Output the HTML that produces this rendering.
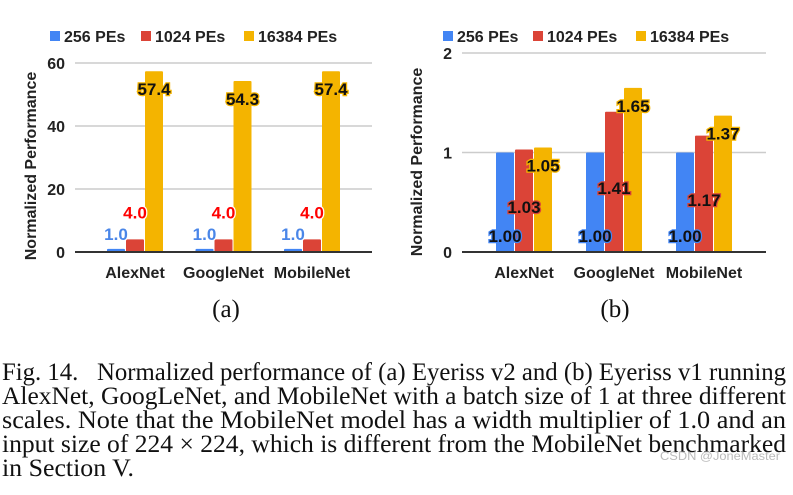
<!DOCTYPE html>
<html><head><meta charset="utf-8"><style>
html,body{margin:0;padding:0;background:#fff;width:793px;height:495px;overflow:hidden}
svg{display:block}
.t{font-family:"Liberation Sans",Arial,sans-serif;font-weight:bold}
.cap{font-family:"Liberation Serif","Times New Roman",serif;font-size:25px;fill:#111}
</style></head><body>
<svg id="svg" width="793" height="495" viewBox="0 0 793 495">
<g id="chartA"></g>
<g id="chartB"></g>
<text x="226" y="317" text-anchor="middle" class="cap" font-size="23">(a)</text>
<text x="615" y="317" text-anchor="middle" class="cap" font-size="23">(b)</text>
<g>
<text class="cap" x="2" y="380" textLength="784" lengthAdjust="spacingAndGlyphs">Fig. 14.&#160;&#160;&#160;Normalized performance of (a) Eyeriss v2 and (b) Eyeriss v1 running</text>
<text class="cap" x="2" y="404" textLength="784" lengthAdjust="spacingAndGlyphs">AlexNet, GoogLeNet, and MobileNet with a batch size of 1 at three different</text>
<text class="cap" x="2" y="428" textLength="784" lengthAdjust="spacingAndGlyphs">scales. Note that the MobileNet model has a width multiplier of 1.0 and an</text>
<text class="cap" x="2" y="452" textLength="784" lengthAdjust="spacingAndGlyphs">input size of 224 × 224, which is different from the MobileNet benchmarked</text>
<text class="cap" x="2" y="476" textLength="132" lengthAdjust="spacingAndGlyphs">in Section V.</text>
</g>
<text x="660" y="460" font-family="Liberation Sans,sans-serif" font-size="12" fill="#bbb" textLength="120" lengthAdjust="spacingAndGlyphs">CSDN @JoneMaster</text>
</svg>
<script>
const categories = ["AlexNet","GoogleNet","MobileNet"];
const seriesNames = ["256 PEs","1024 PEs","16384 PEs"];
const colors = ["#4285f4","#db4437","#f4b400"];
const aPE256 = [1.0,1.0,1.0];
const aPE1024 = [4.0,4.0,4.0];
const aPE16384 = [57.4,54.3,57.4];
const aTicks = [0,20,40,60];
const bPE256 = [1.00,1.00,1.00];
const bPE1024 = [1.03,1.41,1.17];
const bPE16384 = [1.05,1.65,1.37];
const bTicks = [0,1,2];

const NS="http://www.w3.org/2000/svg";
function mk(parent,tag,attrs,text){const e=document.createElementNS(NS,tag);for(const k in attrs)e.setAttribute(k,attrs[k]);if(text!==undefined)e.textContent=text;parent.appendChild(e);return e;}

function drawChart(g,cfg){
  const y=v=>cfg.y0-(v-cfg.min)/(cfg.max-cfg.min)*(cfg.y0-cfg.yTop);
  seriesNames.forEach((n,i)=>{
    const r=mk(g,'rect',{x:cfg.legX[i],y:31,width:10,height:10,fill:colors[i]});
    
    
    const t=mk(g,'text',{x:cfg.legX[i]+14,y:42,class:'t','font-size':16,fill:'#222'},n);
    
    
  });
  cfg.ticks.forEach(v=>{
    if(v!==0){
      const l=mk(g,'line',{x1:cfg.x0,x2:cfg.x1,y1:y(v),y2:y(v),stroke:'#ccc','stroke-width':1.5});
      
      
    }
    const t=mk(g,'text',{x:cfg.x0-10,y:y(v)+6,'text-anchor':'end',class:'t','font-size':16,fill:'#222'},String(v));
    
    
  });
  const yt=mk(g,'text',{x:0,y:0,transform:`translate(${cfg.titleX},${cfg.titleY}) rotate(-90)`,'text-anchor':'middle',class:'t','font-size':16,fill:'#222'},'Normalized Performance');
  
  
  const bw=19;
  const labels=[];
  categories.forEach((c,ci)=>{
    const cx=cfg.firstCenter+ci*cfg.step;
    const ct=mk(g,'text',{x:cx,y:278,'text-anchor':'middle',class:'t','font-size':16,fill:'#222'},c);
    
    
    cfg.series.forEach((s,si)=>{
      const bx=cx-1.5*bw+si*bw;
      const top=y(s[ci]);
      const r=mk(g,'rect',{x:bx+0.5,y:top,width:bw-1,height:cfg.y0-top,fill:colors[si],rx:1});
      
      
      labels.push({x:bx+bw/2,y:cfg.labelY(s[ci],si,ci,top),si,ci,v:s[ci],c});
    });
  });
  const base=mk(g,'line',{x1:cfg.x0,x2:cfg.x1,y1:y(0),y2:y(0),stroke:'#333','stroke-width':2});
  
  
  labels.forEach(L=>{
    const st=cfg.labelStyle[L.si];
    const lt=mk(g,'text',{x:L.x,y:L.y,'text-anchor':'middle',class:'t','font-size':17,fill:st.fill,stroke:st.stroke,'stroke-width':2.5,'paint-order':'stroke'},L.v.toFixed(cfg.dec));
    
    
  });
}

drawChart(document.getElementById('chartA'),{
  min:0,max:60,y0:252,yTop:63,x0:75,x1:372,ticks:aTicks,titleX:36,titleY:166,
  legX:[50,141,244],firstCenter:135,step:88.5,dec:1,
  series:[aPE256,aPE1024,aPE16384],
  labelStyle:[{fill:'#4a86e8',stroke:'#fff'},{fill:'#ff0000',stroke:'#fff'},{fill:'#111',stroke:'#f4b400'}],
  labelY:(v,si,ci,top)=> si===2 ? top+24 : (si===1 ? top-21 : top-9)
});
drawChart(document.getElementById('chartB'),{
  min:0,max:2,y0:252,yTop:53,x0:462,x1:766,ticks:bTicks,titleX:422,titleY:162,
  legX:[443,533,636],firstCenter:524,step:90,dec:2,
  series:[bPE256,bPE1024,bPE16384],
  labelStyle:[{fill:'#111',stroke:'#4285f4'},{fill:'#111',stroke:'#db4437'},{fill:'#111',stroke:'#f4b400'}],
  labelY:(v,si,ci,top)=> si===0 ? 242 : (si===1 ? top+(252-top)*0.5+12 : top+24)
});
</script>
</body></html>
